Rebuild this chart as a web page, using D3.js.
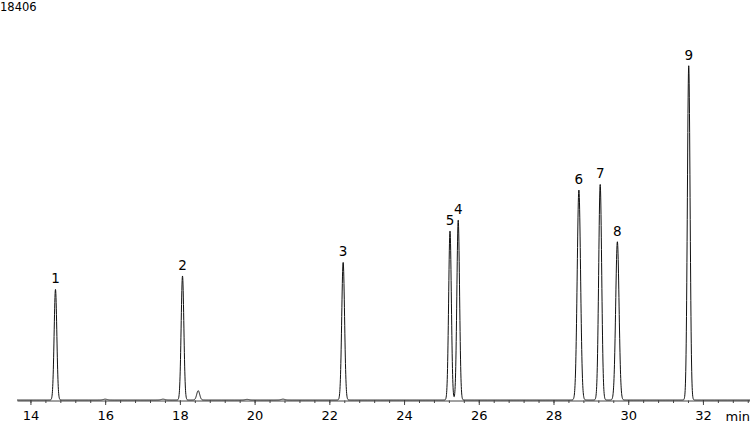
<!DOCTYPE html>
<html>
<head>
<meta charset="utf-8">
<script src="https://cdn.jsdelivr.net/npm/d3@7"></script>
<style>
  body { margin: 0; background: #fff; }
  svg { display: block; font-family: "DejaVu Sans", Verdana, sans-serif; }
</style>
</head>
<body>
<div id="chart"></div>
<script>
// --- Chromatogram data ---
const peakLabels = ["1", "", "", "2", "", "", "", "3", "5", "4", "6", "7", "8", "9"];
const peakTimes  = [14.67, 16.0, 17.55, 18.07, 18.49, 19.8, 20.76, 22.37, 25.23, 25.45, 28.68, 29.25, 29.71, 31.62];
const peakHeights = [5360, 40, 40, 6010, 450, 30, 40, 6670, 8190, 8720, 10170, 10450, 7670, 16190];
const peakWidths = [0.036, 0.05, 0.05, 0.036, 0.04, 0.05, 0.05, 0.038, 0.036, 0.036, 0.045, 0.04, 0.045, 0.036];

const majorTicks = [14, 16, 18, 20, 22, 24, 26, 28, 30, 32];
const maxSignal = 18406;
const timeRange = [13.64, 33.26];

const width = 750;
const height = 421;
const margin = { top: 20, right: 0, bottom: 21, left: 17 };

const svg = d3.select("#chart").append("svg")
    .attr("width", width)
    .attr("height", height);

const x = d3.scaleLinear()
    .domain(timeRange)
    .range([margin.left, width - margin.right]);

const y = d3.scaleLinear()
    .domain([0, maxSignal])
    .range([height - margin.bottom, margin.top]);

// Build the trace from the peak table (gaussian peak shapes)
const peaks = peakTimes.map((t, i) => ({
    t: t, h: peakHeights[i], w: peakWidths[i], label: peakLabels[i]
}));

const step = 0.004;
const trace = d3.range(timeRange[0], timeRange[1] + step, step).map(t => {
    let v = 0;
    peaks.forEach(p => {
        const z = (t - p.t) / p.w;
        v += p.h * Math.exp(-0.5 * z * z);
    });
    return [t, v];
});

// Minor ticks every 0.4 min
const minorTicks = d3.range(13.6, 33.3, 0.4).map(v => +v.toFixed(2))
    .filter(v => v >= timeRange[0] && v <= timeRange[1]);

// Axis
const axisY = y(0) + 0.5;

svg.append("g")
    .attr("transform", `translate(0,${axisY})`)
    .call(d3.axisBottom(x).tickValues(minorTicks).tickSize(2.5).tickSizeOuter(0).tickFormat(""))
    .call(g => g.select(".domain").attr("stroke", "#444"))
    .call(g => g.selectAll(".tick line").attr("stroke", "#444"));

svg.append("g")
    .attr("transform", `translate(0,${axisY})`)
    .call(d3.axisBottom(x).tickValues(majorTicks).tickSize(4.5).tickSizeOuter(0).tickPadding(6))
    .call(g => g.select(".domain").remove())
    .call(g => g.selectAll(".tick line").attr("stroke", "#444"))
    .call(g => g.selectAll(".tick text")
        .attr("font-size", 13)
        .attr("font-family", "DejaVu Sans, Verdana, sans-serif")
        .attr("fill", "#000"));

svg.append("text")
    .attr("x", width)
    .attr("y", axisY + 20)
    .attr("text-anchor", "end")
    .attr("font-size", 13)
    .text("min");

// Trace
const line = d3.line()
    .x(d => x(d[0]))
    .y(d => y(d[1]));

svg.append("path")
    .datum(trace)
    .attr("fill", "none")
    .attr("stroke", "#111")
    .attr("stroke-width", 1)
    .attr("d", line);

// Peak labels
svg.append("g")
    .selectAll("text")
    .data(peaks.filter(p => p.label !== ""))
    .join("text")
    .attr("x", d => x(d.t))
    .attr("y", d => y(d.h) - 6)
    .attr("text-anchor", "middle")
    .attr("font-size", 13.5)
    .text(d => d.label);

// Max signal label
svg.append("text")
    .attr("x", 0)
    .attr("y", 11)
    .attr("font-size", 11.5)
    .text(maxSignal);
</script>
</body>
</html>
